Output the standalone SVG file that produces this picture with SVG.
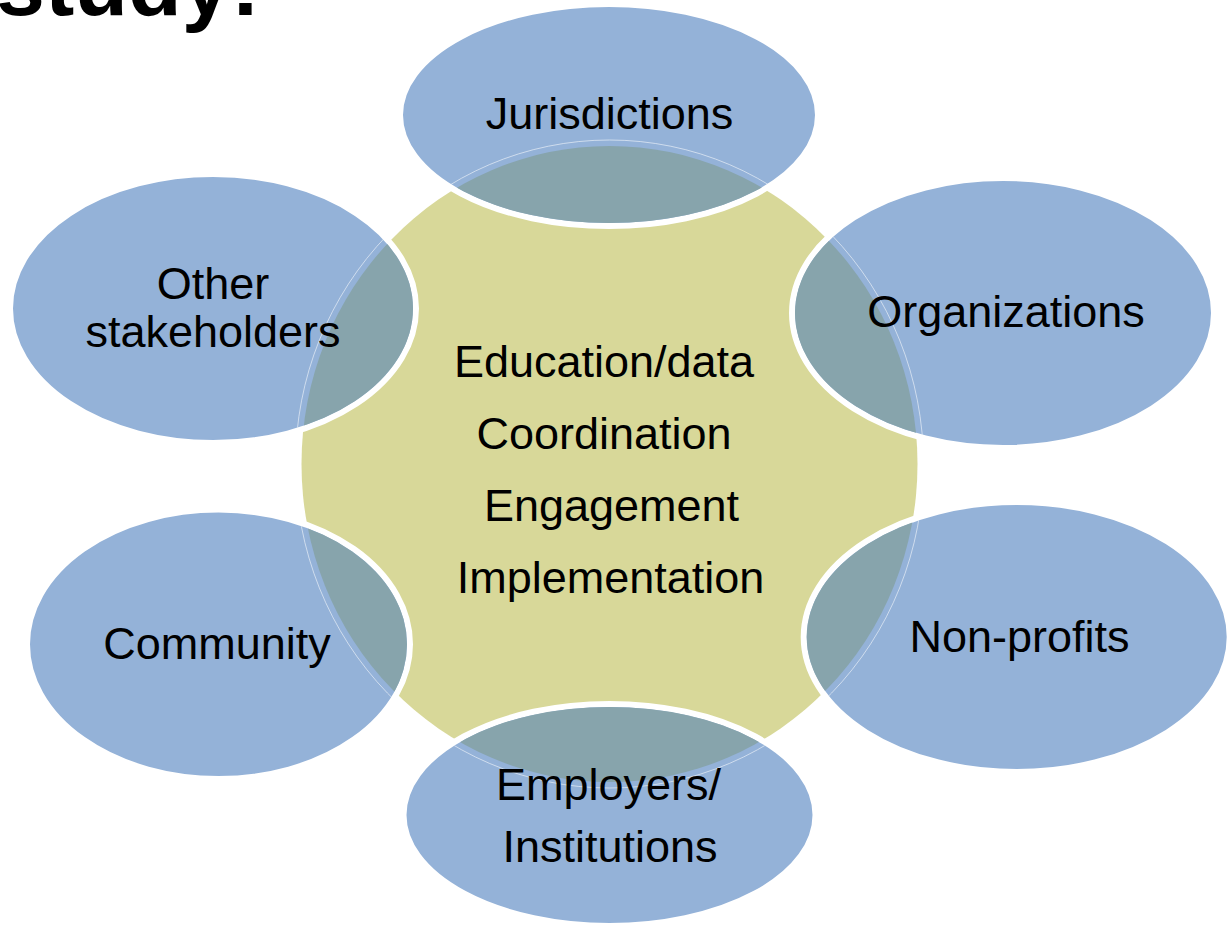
<svg xmlns="http://www.w3.org/2000/svg" width="1227" height="926" viewBox="0 0 1227 926">
<style>
.bub{fill:#94B2D8;stroke:#FFFFFF;stroke-width:6}
.ov{fill:#87A4AC}
.rim{fill:none;stroke:#FFFFFF;stroke-width:1;stroke-opacity:0.55}
.lbl{font-family:"Liberation Sans",Arial,sans-serif;font-size:45px;fill:#000000;text-anchor:middle}
</style>
<defs>
<clipPath id="cJur"><ellipse cx="609" cy="115" rx="206" ry="108"/></clipPath>
<clipPath id="cOth"><ellipse cx="213" cy="308.5" rx="200" ry="131.5"/></clipPath>
<clipPath id="cOrg"><ellipse cx="1003" cy="313" rx="208" ry="132"/></clipPath>
<clipPath id="cCom"><ellipse cx="218.5" cy="644.3" rx="188.5" ry="131.7"/></clipPath>
<clipPath id="cNon"><ellipse cx="1016.7" cy="637" rx="210" ry="132"/></clipPath>
<clipPath id="cEmp"><ellipse cx="609.5" cy="815" rx="203" ry="108"/></clipPath>
</defs>
<rect width="1227" height="926" fill="#FFFFFF"/>
<text x="-4" y="15" font-family="'Liberation Sans',Arial,sans-serif" font-size="88" font-weight="bold" fill="#000000">study:</text>
<g id="center">
<ellipse cx="609.5" cy="464" rx="308" ry="318" fill="#D8D899"/>
</g>
<g id="connectors"/>
<g id="jurisdictions">
<ellipse class="bub" cx="609" cy="115" rx="209" ry="111"/>
<ellipse class="ov" cx="609.5" cy="464" rx="308" ry="318" clip-path="url(#cJur)"/>
<ellipse class="rim" cx="609.5" cy="464" rx="314" ry="324" clip-path="url(#cJur)"/>
<text class="lbl" x="609.5" y="129">Jurisdictions</text>
</g>
<g id="other-stakeholders">
<ellipse class="bub" cx="213" cy="308.5" rx="203" ry="134.5"/>
<ellipse class="ov" cx="609.5" cy="464" rx="308" ry="318" clip-path="url(#cOth)"/>
<ellipse class="rim" cx="609.5" cy="464" rx="314" ry="324" clip-path="url(#cOth)"/>
<text class="lbl" x="213" y="299">Other</text>
<text class="lbl" x="213" y="346.5">stakeholders</text>
</g>
<g id="organizations">
<ellipse class="bub" cx="1003" cy="313" rx="211" ry="135"/>
<ellipse class="ov" cx="609.5" cy="464" rx="308" ry="318" clip-path="url(#cOrg)"/>
<ellipse class="rim" cx="609.5" cy="464" rx="314" ry="324" clip-path="url(#cOrg)"/>
<text class="lbl" x="1006" y="326.5">Organizations</text>
</g>
<g id="community">
<ellipse class="bub" cx="218.5" cy="644.3" rx="191.5" ry="134.7"/>
<ellipse class="ov" cx="609.5" cy="464" rx="308" ry="318" clip-path="url(#cCom)"/>
<ellipse class="rim" cx="609.5" cy="464" rx="314" ry="324" clip-path="url(#cCom)"/>
<text class="lbl" x="217" y="659">Community</text>
</g>
<g id="non-profits">
<ellipse class="bub" cx="1016.7" cy="637" rx="213" ry="135"/>
<ellipse class="ov" cx="609.5" cy="464" rx="308" ry="318" clip-path="url(#cNon)"/>
<ellipse class="rim" cx="609.5" cy="464" rx="314" ry="324" clip-path="url(#cNon)"/>
<text class="lbl" x="1019.5" y="652">Non-profits</text>
</g>
<g id="employers-institutions">
<ellipse class="bub" cx="609.5" cy="815" rx="206" ry="111"/>
<ellipse class="ov" cx="609.5" cy="464" rx="308" ry="318" clip-path="url(#cEmp)"/>
<ellipse class="rim" cx="609.5" cy="464" rx="314" ry="324" clip-path="url(#cEmp)"/>
<text class="lbl" x="608.5" y="799.5">Employers/</text>
<text class="lbl" x="610" y="862">Institutions</text>
</g>
<g id="center-text">
<text class="lbl" x="604" y="377">Education/data</text>
<text class="lbl" x="604" y="449">Coordination</text>
<text class="lbl" x="611.5" y="521">Engagement</text>
<text class="lbl" x="610.5" y="593">Implementation</text>
</g>
</svg>
